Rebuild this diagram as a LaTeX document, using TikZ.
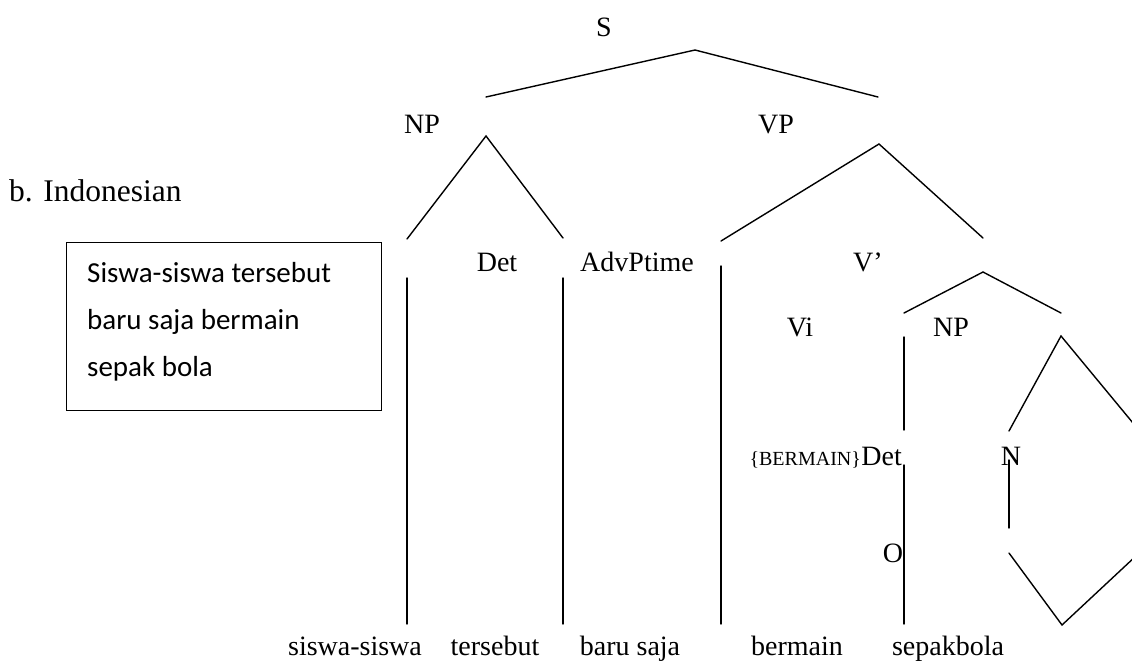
\documentclass[tikz,border=0pt]{standalone}
\usepackage{fontspec}
\setmainfont{Liberation Serif}
\newfontfamily\calibrilike{Carlito}
\tikzset{
  lbl/.style={inner sep=0pt, anchor=base, font=\fontsize{28}{30}\selectfont},
  smallcap/.style={inner sep=0pt, font=\fontsize{20}{22}\selectfont},
  boxtxt/.style={inner sep=0pt, anchor=base west, font=\calibrilike\fontsize{29}{32}\selectfont},
  branch/.style={line width=1.4pt, line cap=round},
  framebox/.style={draw, line width=1.4pt, inner sep=0pt, anchor=north west},
}
\begin{document}
\begin{tikzpicture}[x=1pt,y=-1pt]
\useasboundingbox (0,0) rectangle (1132,662);
\clip (0,0) rectangle (1132,662);

% example heading and the sentence box
\node[lbl, anchor=base west, font=\fontsize{31.5}{33}\selectfont] (ex) at (9,201) {b. Indonesian};
\node[framebox, minimum width=315pt, minimum height=168pt] (box) at (66,242) {};
\node[boxtxt] (l1) at (87,282) {Siswa-siswa tersebut};
\node[boxtxt] (l2) at (87,329) {baru saja bermain};
\node[boxtxt] (l3) at (87,376) {sepak bola};

% category labels
\node[lbl] (S) at (604,36) {S};
\node[lbl] (NP) at (422,133) {NP};
\node[lbl] (VP) at (776,133) {VP};
\node[lbl] (det) at (497,271) {Det};
\node[lbl] (adv) at (637,271) {AdvPtime};
\node[lbl] (vbar) at (868,271) {V’};
\node[lbl] (vi) at (800,336) {Vi};
\node[lbl] (np2) at (951,336) {NP};
\node[lbl, anchor=base east] (det2) at (902,465) {Det};
\node[smallcap, anchor=base east] (berm) at (det2.base west) {\{BERMAIN\}};
\node[lbl] (n) at (1011,465) {N};
\node[lbl] (o) at (893,562) {O};

% words
\node[lbl] (w1) at (355,655) {siswa-siswa};
\node[lbl] (w2) at (495,655) {tersebut};
\node[lbl] (w3) at (630,655) {baru saja};
\node[lbl] (w4) at (797,655) {bermain};
\node[lbl] (w5) at (948,655) {sepakbola};

% branch end points
\coordinate (sA) at (695,50);
\coordinate (sL) at (486,97);
\coordinate (sR) at (878,97);
\coordinate (npA) at (486,136);
\coordinate (npL) at (407,239);
\coordinate (npR) at (563,238);
\coordinate (vpA) at (879,144);
\coordinate (vpL) at (721,241);
\coordinate (vpR) at (983,238);
\coordinate (vbA) at (983,272);
\coordinate (vbL) at (904,313);
\coordinate (vbR) at (1061,313);
\coordinate (dA) at (1061,336);
\coordinate (dL) at (1009,431);
\coordinate (dR) at (1152,446);
\coordinate (dB) at (1062,625);
\coordinate (dBL) at (1009,553);
\coordinate (dBR) at (1152,541);

\coordinate (v1t) at (407,278);  \coordinate (v1b) at (407,624);
\coordinate (v2t) at (563,278);  \coordinate (v2b) at (563,624);
\coordinate (v3t) at (721,266);  \coordinate (v3b) at (721,624);
\coordinate (v4t) at (904,337);  \coordinate (v4m) at (904,430);
\coordinate (v5t) at (904,465);  \coordinate (v5b) at (904,624);
\coordinate (v6t) at (1009,460); \coordinate (v6b) at (1009,528);

% branches
\draw[branch] (sL) -- (sA) -- (sR);
\draw[branch] (npL) -- (npA) -- (npR);
\draw[branch] (vpL) -- (vpA) -- (vpR);
\draw[branch] (vbL) -- (vbA) -- (vbR);
\draw[branch] (dL) -- (dA) -- (dR);
\draw[branch] (dBL) -- (dB) -- (dBR);
\draw[branch] (v1t) -- (v1b);
\draw[branch] (v2t) -- (v2b);
\draw[branch] (v3t) -- (v3b);
\draw[branch] (v4t) -- (v4m);
\draw[branch] (v5t) -- (v5b);
\draw[branch] (v6t) -- (v6b);
\end{tikzpicture}
\end{document}
